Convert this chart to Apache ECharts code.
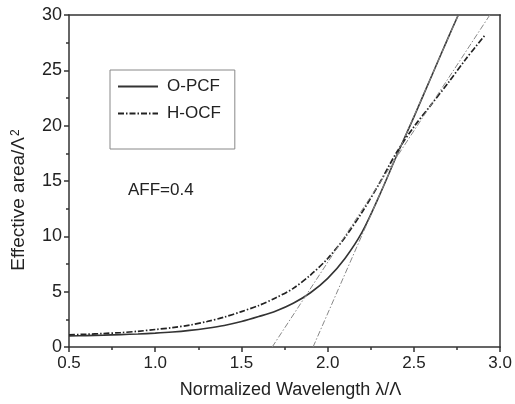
<!DOCTYPE html>
<html>
<head>
<meta charset="utf-8">
<script src="https://cdn.jsdelivr.net/npm/echarts@6/dist/echarts.min.js"></script>
<style>html,body{margin:0;padding:0;background:#fff;}#c{width:515px;height:404px;}</style>
</head>
<body>
<div id="c"></div>
<script>
// Data
var opcfX = [0.5,0.6,0.7,0.8,0.9,1.0,1.1,1.2,1.3,1.4,1.5,1.6,1.7,1.8,1.9,2.0,2.1,2.2,2.3,2.4,2.5,2.6,2.7,2.757];
var opcfY = [1.0,1.03,1.07,1.12,1.18,1.25,1.35,1.5,1.7,1.95,2.3,2.75,3.25,3.95,4.9,6.2,8.0,10.4,13.7,17.3,20.8,24.4,28.0,30.0];
var hocfX = [0.5,0.6,0.7,0.8,0.9,1.0,1.1,1.2,1.3,1.4,1.5,1.6,1.7,1.8,1.9,2.0,2.1,2.2,2.3,2.4,2.5,2.6,2.7,2.8,2.913];
var hocfY = [1.1,1.15,1.22,1.3,1.42,1.58,1.75,1.98,2.3,2.7,3.2,3.75,4.45,5.3,6.5,8.0,9.9,12.2,14.8,17.6,19.9,21.9,23.9,26.0,28.2];
var tangentAX = [1.678, 2.94];
var tangentAY = [0, 30];
var tangentBX = [1.915, 2.757];
var tangentBY = [0, 30];
var seriesNames = ['O-PCF', 'H-OCF'];
var annotation = 'AFF=0.4';
var xTitle = 'Normalized Wavelength λ/Λ';
var yTitle = 'Effective area/Λ{sup|2}';

function pairs(xs, ys){ return xs.map(function(x,i){ return [x, ys[i]]; }); }

var chart = echarts.init(document.getElementById('c'), null, {renderer:'canvas'});
var font = 'Liberation Sans, Arial, sans-serif';
var axisCol = '#333';
var txtCol = '#222';
chart.setOption({
  animation: false,
  backgroundColor: '#fff',
  grid: {left: 69, right: 13, top: 15, bottom: 50, containLabel: false},
  legend: {
    data: seriesNames,
    orient: 'vertical',
    left: 110, top: 70,
    padding: [8, 14, 27, 7],
    itemGap: 10,
    itemWidth: 40, itemHeight: 14,
    borderColor: '#888', borderWidth: 1,
    backgroundColor: '#fff',
    itemStyle: {opacity: 0},
    textStyle: {fontFamily: font, fontSize: 17, color: txtCol, padding: [0,0,0,4]}
  },
  xAxis: [{
    type: 'value', min: 0.5, max: 3.0, interval: 0.5,
    name: xTitle, nameLocation: 'middle', nameGap: 34,
    nameTextStyle: {fontFamily: font, fontSize: 18, color: txtCol, padding: [0,0,0,12]},
    axisLine: {show: true, onZero: false, lineStyle: {color: axisCol, width: 1.5}},
    axisTick: {show: true, inside: false, length: 5, lineStyle: {color: axisCol, width: 1.5}},
    minorTick: {show: true, splitNumber: 2, length: 3, lineStyle: {color: axisCol, width: 1.5}},
    axisLabel: {fontFamily: font, fontSize: 17, color: txtCol, margin: 8, formatter: function(v){return v.toFixed(1);}},
    splitLine: {show: false}
  }, {
    type: 'value', min: 0.5, max: 3.0, position: 'top',
    axisLine: {show: true, onZero: false, lineStyle: {color: axisCol, width: 1.5}},
    axisTick: {show: false}, axisLabel: {show: false}, splitLine: {show: false}
  }],
  yAxis: [{
    type: 'value', min: 0, max: 30, interval: 5,
    axisLine: {show: true, onZero: false, lineStyle: {color: axisCol, width: 1.5}},
    axisTick: {show: true, inside: false, length: 5, lineStyle: {color: axisCol, width: 1.5}},
    minorTick: {show: true, splitNumber: 2, length: 3, lineStyle: {color: axisCol, width: 1.5}},
    axisLabel: {fontFamily: font, fontSize: 18, color: txtCol, margin: 7},
    splitLine: {show: false}
  }, {
    type: 'value', min: 0, max: 30, position: 'right',
    axisLine: {show: true, onZero: false, lineStyle: {color: axisCol, width: 1.5}},
    axisTick: {show: false}, axisLabel: {show: false}, splitLine: {show: false}
  }],
  series: [{
    name: seriesNames[0], type: 'line', data: pairs(opcfX, opcfY),
    smooth: 0.3, symbol: 'none', showSymbol: false, clip: true,
    lineStyle: {color: '#333', width: 1.6, type: 'solid'},
    itemStyle: {color: '#333'}
  }, {
    name: seriesNames[1], type: 'line', data: pairs(hocfX, hocfY),
    smooth: 0.3, symbol: 'none', showSymbol: false, clip: true,
    lineStyle: {color: '#222', width: 1.7, type: [6, 2, 1.5, 2]},
    itemStyle: {color: '#222'}
  }, {
    name: 'tangentA', type: 'line', data: pairs(tangentAX, tangentAY),
    symbol: 'none', showSymbol: false, clip: true,
    lineStyle: {color: '#888', width: 1, type: [6, 2, 1.5, 2]}
  }, {
    name: 'tangentB', type: 'line', data: pairs(tangentBX, tangentBY),
    symbol: 'none', showSymbol: false, clip: true,
    lineStyle: {color: '#888', width: 1, type: [6, 2, 1.5, 2]}
  }],
  graphic: [{
    type: 'text', left: 128, top: 182,
    style: {text: annotation, fontFamily: font, fontSize: 17, fill: txtCol}
  }, {
    type: 'text', x: 19, y: 200, rotation: Math.PI / 2,
    style: {text: yTitle, fontFamily: font, fontSize: 19, fill: txtCol,
      align: 'center', verticalAlign: 'middle',
      rich: {sup: {fontFamily: font, fontSize: 12, fill: txtCol, padding: [0,0,6,1]}}}
  }]
});
</script>
</body>
</html>
